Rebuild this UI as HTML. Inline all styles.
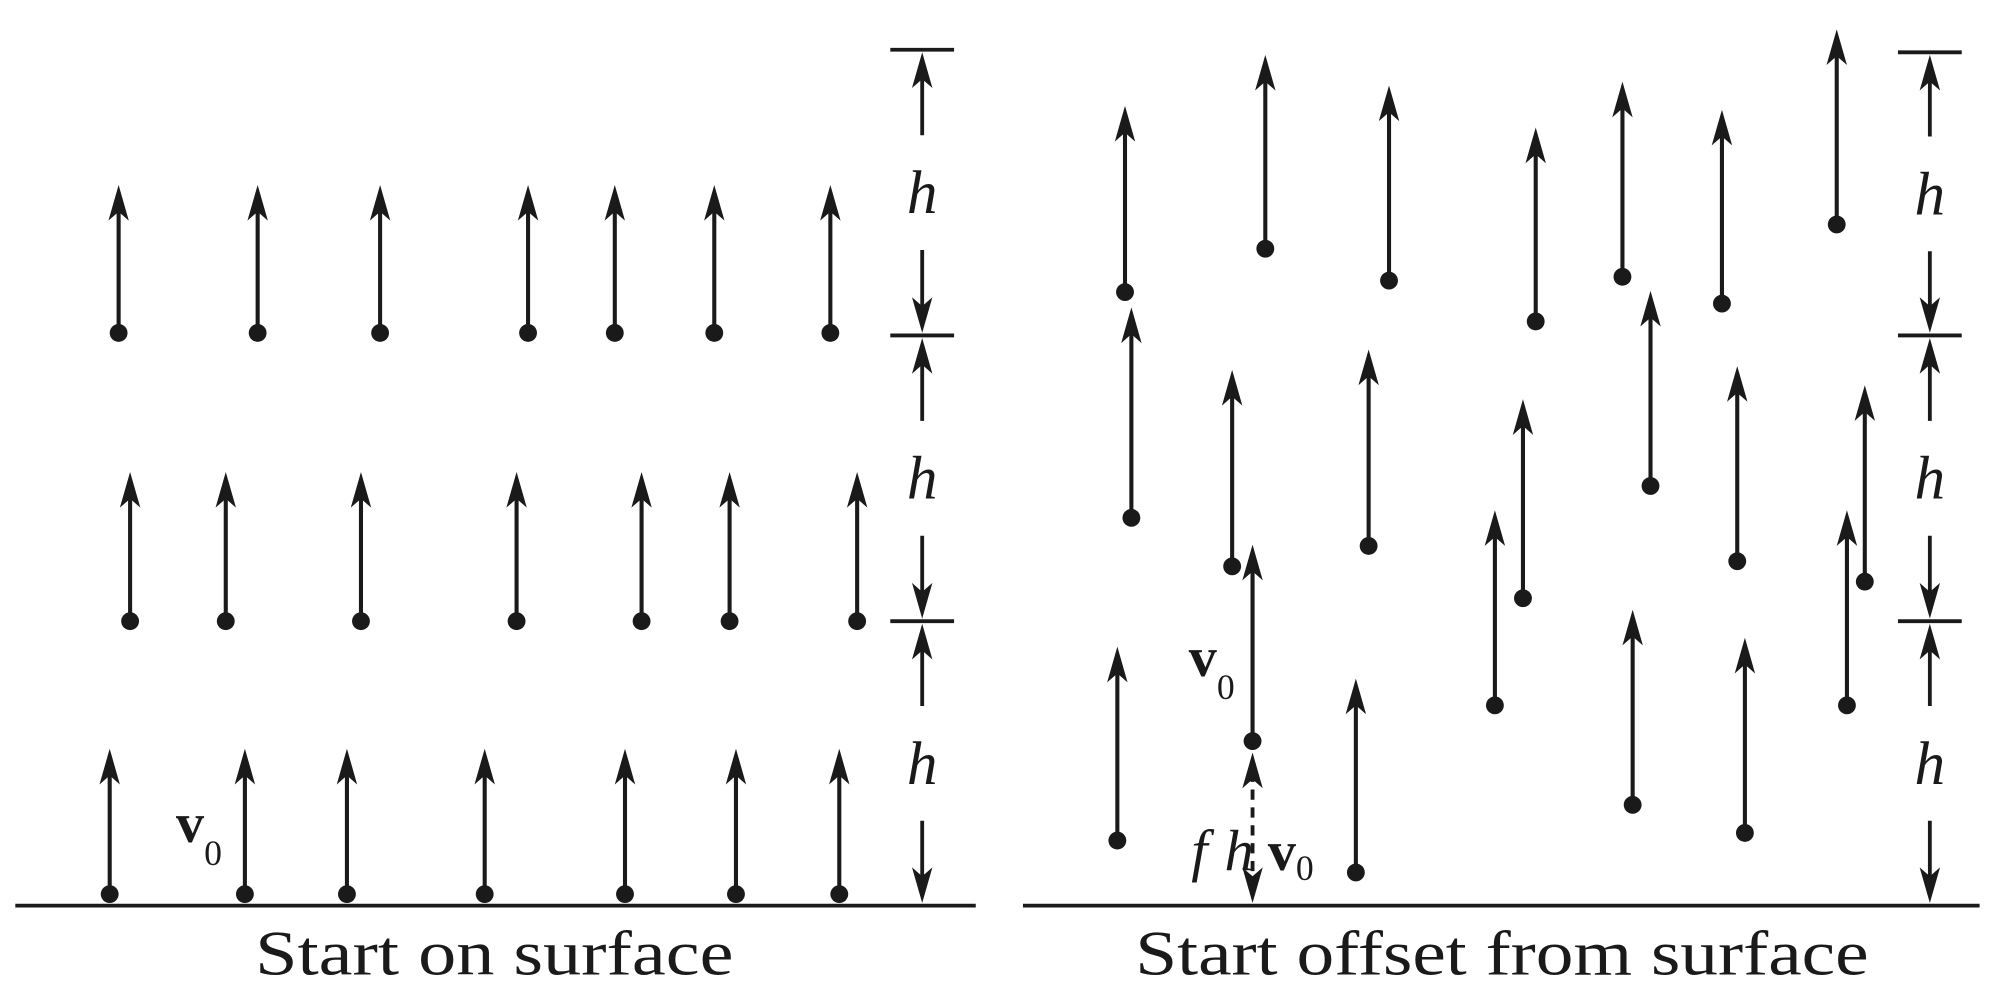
<!DOCTYPE html>
<html><head><meta charset="utf-8"><style>
html,body{margin:0;padding:0;background:#fff;}
svg{display:block;}
text{font-family:"Liberation Serif",serif;fill:#1a1a1a;}
</style></head><body>
<svg id="fig" width="2000" height="1000" viewBox="0 0 1568 784" preserveAspectRatio="none"></svg>
<script>
// Left panel arrows: [x, dotY, tipY]
const leftRow1X=[93,202,298,414,482,560,651];
const leftRow2X=[102,177,283,405,503,572,672];
const leftRow3X=[86,192,272,380,490,577,658];
const leftRowDot=[261,487,701];
const leftRowTip=[145,370,587];
// Right panel arrows
const rightX=[882,992,1089,1204,1272,1350,1440,887,966,1073,1194,1294,1362,1462,876,982,1063,1172,1280,1368,1448];
const rightDot=[229,195,220,252,217,238,176,406,444,428,469,381,440,456,659,581,684,553,631,653,553];
const rightTip=[83,43,67,100,64,86,23,241,290,274,313,228,287,302,507,427,532,400,478,500,400];
const leftTicks=[39,263,487,710];
const rightTicks=[41,263,487,710];

const svg=document.getElementById('fig');
const NS='http://www.w3.org/2000/svg';
function mk(tag,attrs,parent){const e=document.createElementNS(NS,tag);for(const k in attrs)e.setAttribute(k,attrs[k]);(parent||svg).appendChild(e);return e;}
const C='#1a1a1a';
function head(x,y,dir,g){
  const p=mk('path',{d:`M${x},${y} L${x-8},${y-dir*28} L${x},${y-dir*21} L${x+8},${y-dir*28} Z`,fill:C},g);
  
  
}
function vec(x,dot,tip,name){
  const g=mk('g',{});
  
  
  mk('line',{x1:x,y1:dot,x2:x,y2:tip+18,stroke:C,'stroke-width':3.2},g);
  head(x,tip,-1,g);
  mk('circle',{cx:x,cy:dot,r:7,fill:C},g);
}
[leftRow1X,leftRow2X,leftRow3X].forEach((xs,r)=>xs.forEach((x,i)=>vec(x,leftRowDot[r],leftRowTip[r],'left-velocity-arrow-r'+(r+1)+'-'+(i+1))));
rightX.forEach((x,i)=>vec(x,rightDot[i],rightTip[i],'right-velocity-arrow-'+(i+1)));

function dim(x,ticks,name){
  const g=mk('g',{});
  
  
  for(let i=0;i<ticks.length-1;i++){
    mk('line',{x1:x-25,y1:ticks[i],x2:x+25,y2:ticks[i],stroke:C,'stroke-width':3},g);
  }
  for(let i=0;i<ticks.length-1;i++){
    const a=ticks[i],b=ticks[i+1],m=(a+b)/2;
    mk('line',{x1:x,y1:m-45,x2:x,y2:a+15,stroke:C,'stroke-width':3},g);
    head(x,a+2,-1,g);
    mk('line',{x1:x,y1:m+45,x2:x,y2:b-15,stroke:C,'stroke-width':3},g);
    head(x,b-2,1,g);
    const t=mk('text',{x:x,y:m+16,'font-size':48,'font-style':'italic','text-anchor':'middle'},g);
    t.textContent='h';
    
    
  }
}
dim(723,leftTicks,'left-height-dimension');
dim(1513,rightTicks,'right-height-dimension');

const b1=mk('line',{x1:12,y1:710,x2:765,y2:710,stroke:C,'stroke-width':3});


const b2=mk('line',{x1:802,y1:710,x2:1552,y2:710,stroke:C,'stroke-width':3});



const dg=mk('g',{});


mk('line',{x1:982,y1:605,x2:982,y2:688,stroke:C,'stroke-width':3,'stroke-dasharray':'8,6'},dg);
head(982,590,-1,dg);head(982,708,1,dg);
</script>
<svg style="position:absolute;left:0;top:0" width="2000" height="1000" viewBox="0 0 1568 784" preserveAspectRatio="none">
<text x="138" y="660" font-size="44" font-weight="bold">v<tspan font-size="28" font-weight="normal" dy="18">0</tspan></text>
<text x="932" y="530" font-size="44" font-weight="bold">v<tspan font-size="28" font-weight="normal" dy="18">0</tspan></text>
<text x="934" y="682" font-size="46" font-style="italic">f</text>
<text x="960" y="682" font-size="46" font-style="italic">h</text>
<text x="994" y="682" font-size="44" font-weight="bold">v<tspan font-size="28" font-weight="normal" dy="8">0</tspan></text>
<text x="200" y="764" font-size="50" textLength="375" lengthAdjust="spacingAndGlyphs">Start on surface</text>
<text x="890" y="764" font-size="50" textLength="575" lengthAdjust="spacingAndGlyphs">Start offset from surface</text>
</svg>
</body></html>
